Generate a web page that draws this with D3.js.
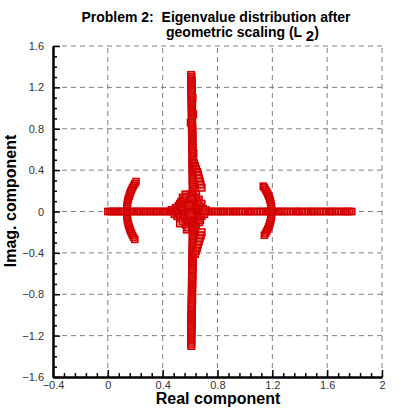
<!DOCTYPE html>
<html>
<head>
<meta charset="utf-8">
<script src="https://cdn.jsdelivr.net/npm/d3@7"></script>
<style>
  body { margin: 0; background: #fff; }
  svg { display: block; }
</style>
</head>
<body>
<svg id="chart"></svg>
<script>
// eigenvalues, [real, imag]
const realAxisRe = [0.000, 0.015, 0.03, 0.045, 0.06, 0.075, 0.09, 0.105, 0.12, 0.14, 0.16, 0.175, 0.19, 0.21,
  0.225, 0.24, 0.26, 0.275, 0.29, 0.31, 0.33, 0.345, 0.36, 0.38, 0.40, 0.415, 0.43, 0.45, 0.465, 0.48, 0.50,
  0.515, 0.53, 0.55, 0.57, 0.585, 0.60, 0.62, 0.64, 0.655, 0.67, 0.69, 0.71, 0.73, 0.745, 0.76, 0.78, 0.80,
  0.82, 0.835, 0.85, 0.87, 0.89, 0.91, 0.925, 0.94, 0.96, 0.98, 1.00, 1.02, 1.035, 1.05, 1.07, 1.09, 1.11,
  1.13, 1.15, 1.165, 1.18, 1.20, 1.22, 1.24, 1.255, 1.27, 1.29, 1.31, 1.33, 1.35, 1.37, 1.385, 1.40, 1.42,
  1.44, 1.46, 1.48, 1.495, 1.51, 1.53, 1.55, 1.57, 1.59, 1.61, 1.625, 1.64, 1.66, 1.68, 1.70, 1.72, 1.735,
  1.75, 1.765, 1.78];

const upperBranch = [[0.608,1.32],[0.610,1.30],[0.607,1.28],[0.611,1.26],[0.609,1.24],[0.612,1.22],[0.608,1.20],
  [0.613,1.18],[0.610,1.16],[0.612,1.14],[0.609,1.12],[0.618,1.10],[0.611,1.08],[0.613,1.06],[0.610,1.04],
  [0.615,1.02],[0.612,1.00],[0.614,0.98],[0.611,0.96],[0.622,0.94],[0.613,0.92],[0.615,0.90],[0.612,0.88],
  [0.605,0.86],[0.614,0.84],[0.617,0.82],[0.613,0.80],[0.616,0.78],[0.614,0.76],[0.618,0.74],[0.615,0.72],
  [0.617,0.70],[0.614,0.68],[0.618,0.66],[0.616,0.64],[0.619,0.62],[0.615,0.60],[0.618,0.58],[0.624,0.56],
  [0.620,0.54],[0.617,0.52],[0.619,0.50],[0.616,0.48],[0.620,0.46],[0.618,0.44],[0.621,0.42],[0.617,0.40],
  [0.620,0.38],[0.618,0.36],[0.622,0.34],[0.619,0.32],[0.621,0.30],[0.618,0.28],[0.622,0.26],[0.620,0.24],
  [0.623,0.22],[0.619,0.20],[0.622,0.18],[0.620,0.16],[0.615,0.14],[0.612,0.12]];

const lowerBranch = [[0.612,-0.12],[0.615,-0.14],[0.620,-0.16],[0.622,-0.18],[0.619,-0.20],[0.623,-0.22],
  [0.620,-0.24],[0.621,-0.26],[0.618,-0.28],[0.622,-0.30],[0.619,-0.32],[0.621,-0.34],[0.617,-0.36],
  [0.620,-0.38],[0.618,-0.40],[0.619,-0.42],[0.616,-0.44],[0.620,-0.46],[0.617,-0.48],[0.618,-0.50],
  [0.615,-0.52],[0.619,-0.54],[0.616,-0.56],[0.617,-0.58],[0.614,-0.60],[0.618,-0.62],[0.615,-0.64],
  [0.616,-0.66],[0.613,-0.68],[0.617,-0.70],[0.614,-0.72],[0.615,-0.74],[0.612,-0.76],[0.616,-0.78],
  [0.613,-0.80],[0.614,-0.82],[0.611,-0.84],[0.615,-0.86],[0.612,-0.88],[0.613,-0.90],[0.610,-0.92],
  [0.614,-0.94],[0.611,-0.96],[0.612,-0.98],[0.609,-1.00],[0.613,-1.02],[0.610,-1.04],[0.611,-1.06],
  [0.608,-1.08],[0.612,-1.10],[0.609,-1.12],[0.610,-1.14],[0.607,-1.16],[0.611,-1.18],[0.608,-1.20],
  [0.609,-1.22],[0.607,-1.24],[0.610,-1.26],[0.608,-1.28],[0.609,-1.30]];

const innerArcs = [[0.621,0.50],[0.628,0.47],[0.636,0.44],[0.644,0.41],[0.652,0.38],[0.659,0.35],[0.665,0.32],
  [0.671,0.29],[0.677,0.26],[0.684,0.23],
  [0.684,-0.20],[0.678,-0.23],[0.671,-0.26],[0.664,-0.29],[0.657,-0.32],[0.650,-0.35],[0.643,-0.38],[0.636,-0.41]];

const leftArc = [[0.206,0.29],[0.197,0.27],[0.188,0.25],[0.180,0.23],[0.173,0.21],[0.166,0.19],[0.161,0.17],
  [0.156,0.15],[0.151,0.13],[0.147,0.11],[0.144,0.09],[0.142,0.07],[0.140,0.05],[0.139,0.03],[0.138,0.01],
  [0.138,-0.01],[0.139,-0.03],[0.140,-0.05],[0.142,-0.07],[0.144,-0.09],[0.147,-0.11],[0.151,-0.13],
  [0.156,-0.15],[0.161,-0.17],[0.166,-0.19],[0.173,-0.21],[0.180,-0.23],[0.188,-0.25],[0.197,-0.27]];

const rightArc = [[1.134,0.245],[1.142,0.23],[1.151,0.21],[1.159,0.19],[1.167,0.17],[1.173,0.15],[1.179,0.13],
  [1.183,0.11],[1.187,0.09],[1.190,0.07],[1.193,0.05],[1.194,0.03],[1.195,0.01],[1.195,-0.01],[1.194,-0.03],
  [1.193,-0.05],[1.190,-0.07],[1.187,-0.09],[1.183,-0.11],[1.179,-0.13],[1.173,-0.15],[1.167,-0.17],
  [1.159,-0.19],[1.151,-0.21],[1.142,-0.23]];

const centerCluster = [[0.47,0.01],[0.49,-0.02],[0.50,0.03],[0.51,-0.04],[0.52,0.05],[0.52,-0.01],[0.53,0.07],
  [0.53,-0.06],[0.54,0.02],[0.54,0.09],[0.55,-0.09],[0.55,0.05],[0.56,0.11],[0.56,-0.03],[0.57,-0.12],
  [0.57,0.08],[0.58,0.14],[0.58,-0.07],[0.59,0.03],[0.59,-0.15],[0.60,0.10],[0.60,-0.10],[0.61,0.16],
  [0.61,-0.05],[0.62,0.12],[0.62,-0.14],[0.63,0.06],[0.63,-0.09],[0.64,0.13],[0.64,-0.12],[0.65,0.09],
  [0.65,-0.06],[0.66,0.11],[0.66,-0.10],[0.67,0.04],[0.67,-0.08],[0.68,0.07],[0.68,-0.04],[0.69,0.02],
  [0.70,-0.02],[0.71,0.01],[0.55,0.13],[0.53,-0.11],[0.57,0.16],[0.58,-0.17],[0.64,0.16],[0.63,-0.16],
  [0.61,0.08],[0.60,-0.02],[0.59,0.06]];

const xTicks = [-0.4, 0, 0.4, 0.8, 1.2, 1.6, 2];
const yTicks = [-1.6, -1.2, -0.8, -0.4, 0, 0.4, 0.8, 1.2, 1.6];

const width = 415, height = 417;
const margin = {top: 46, right: 33, bottom: 40, left: 53};

const svg = d3.select("#chart").attr("width", width).attr("height", height);

const x = d3.scaleLinear().domain([-0.4, 2]).range([margin.left, width - margin.right]);
const y = d3.scaleLinear().domain([-1.6, 1.6]).range([height - margin.bottom, margin.top]);

// dashed grid
svg.append("g").selectAll("line").data(xTicks.slice(1)).enter().append("line")
  .attr("x1", d => x(d)).attr("x2", d => x(d))
  .attr("y1", y(-1.6)).attr("y2", y(1.6))
  .attr("stroke", "#808080").attr("stroke-dasharray", "5,4");
svg.append("g").selectAll("line").data(yTicks.slice(1)).enter().append("line")
  .attr("y1", d => y(d)).attr("y2", d => y(d))
  .attr("x1", x(-0.4)).attr("x2", x(2))
  .attr("stroke", "#808080").attr("stroke-dasharray", "5,4");

// eigenvalues as open squares
function drawSquares(pts, sq) {
  svg.append("g").selectAll("rect").data(pts).enter().append("rect")
    .attr("x", d => x(d[0]) - sq / 2).attr("y", d => y(d[1]) - sq / 2)
    .attr("width", sq).attr("height", sq)
    .attr("fill", "#e83030").attr("fill-opacity", 0.3)
    .attr("stroke", "#d20000").attr("stroke-width", 1.6);
}
drawSquares(realAxisRe.map(r => [r, 0]), 6);
drawSquares(leftArc.concat(rightArc), 6);
drawSquares(centerCluster, 7.5);
drawSquares(upperBranch.concat(lowerBranch, innerArcs), 6.5);

// axes: ticks pointing inward
const xAxis = d3.axisBottom(x).tickValues(xTicks).tickSizeInner(-7).tickSizeOuter(0).tickPadding(4).tickFormat(d3.format("~g"));
const gx = svg.append("g").attr("transform", `translate(0,${y(-1.6)})`).call(xAxis);
const xMinor = d3.axisBottom(x).tickValues(d3.range(-0.32, 2, 0.08).filter(v => Math.abs(v / 0.4 - Math.round(v / 0.4)) > 0.01))
  .tickSizeInner(-4).tickSizeOuter(0).tickFormat("");
const gxm = svg.append("g").attr("transform", `translate(0,${y(-1.6)})`).call(xMinor);

const yAxis = d3.axisLeft(y).tickValues(yTicks).tickSizeInner(-7).tickSizeOuter(0).tickPadding(9).tickFormat(d3.format("~g"));
const gy = svg.append("g").attr("transform", `translate(${x(-0.4)},0)`).call(yAxis);
const yMinor = d3.axisLeft(y).tickValues(d3.range(-1.5, 1.6, 0.1).filter(v => Math.abs(v / 0.4 - Math.round(v / 0.4)) > 0.01))
  .tickSizeInner(-4).tickSizeOuter(0).tickFormat("");
const gym = svg.append("g").attr("transform", `translate(${x(-0.4)},0)`).call(yMinor);

[gx, gxm, gy, gym].forEach(g => {
  g.select(".domain").attr("stroke", "#000").attr("stroke-width", 2);
  g.selectAll(".tick line").attr("stroke", "#000").attr("stroke-width", 1.5);
  g.selectAll("text").attr("font-family", "Liberation Sans, Arial, sans-serif").attr("font-size", 11).attr("fill", "#333");
});

// titles
svg.append("text").attr("x", 216).attr("y", 22).attr("text-anchor", "middle")
  .attr("font-family", "Liberation Sans, Arial, sans-serif").attr("font-weight", "bold").attr("font-size", 14)
  .attr("xml:space", "preserve").text("Problem 2:  Eigenvalue distribution after");
const t2 = svg.append("text").attr("x", 166).attr("y", 37)
  .attr("font-family", "Liberation Sans, Arial, sans-serif").attr("font-weight", "bold").attr("font-size", 14);
t2.append("tspan").text("geometric scaling (L ");
t2.append("tspan").attr("dy", 4).attr("font-size", 15).text("2");
t2.append("tspan").attr("dy", -4).text(")");

svg.append("text").attr("x", 218).attr("y", 404).attr("text-anchor", "middle")
  .attr("font-family", "Liberation Sans, Arial, sans-serif").attr("font-weight", "bold").attr("font-size", 16)
  .text("Real component");
svg.append("text").attr("transform", "translate(16,201) rotate(-90)").attr("text-anchor", "middle")
  .attr("font-family", "Liberation Sans, Arial, sans-serif").attr("font-weight", "bold").attr("font-size", 16)
  .text("Imag. component");
</script>
</body>
</html>
